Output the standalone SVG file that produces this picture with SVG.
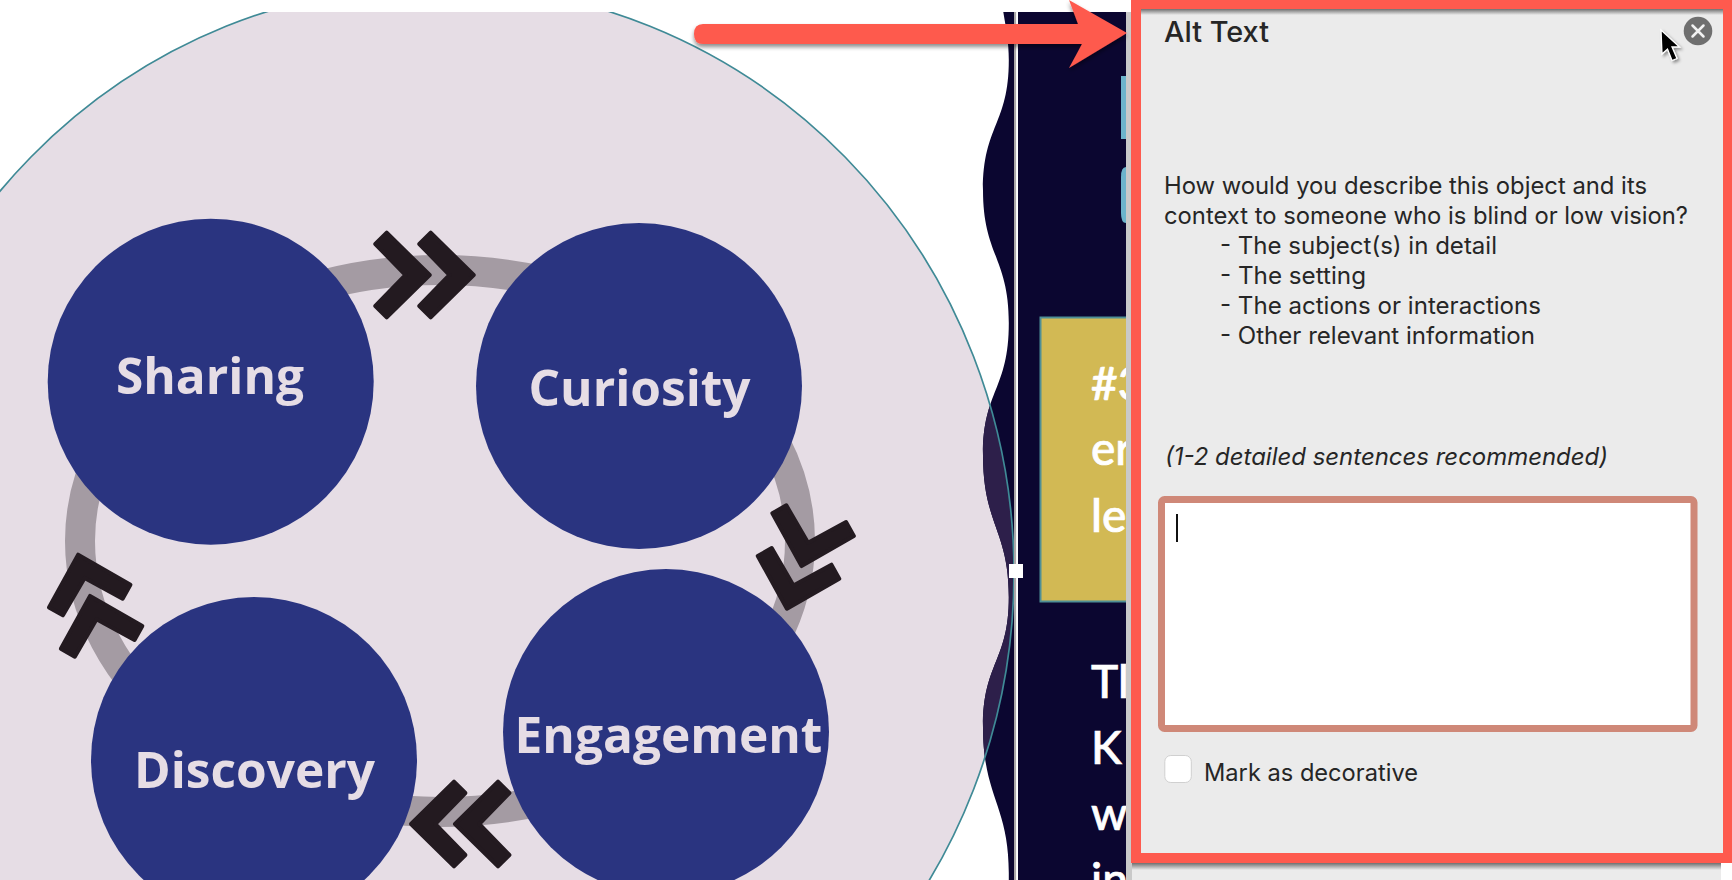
<svg xmlns="http://www.w3.org/2000/svg" width="1732" height="880" viewBox="0 0 1732 880">
<style>
.lbl{font-family:"Open Sans","Noto Sans",sans-serif;font-weight:700;font-size:49.6px;fill:#e6dde5;text-anchor:middle}
.node{fill:#2a3480}
.chev{fill:#231a20;stroke:#231a20;stroke-width:4;stroke-linejoin:round}
.ui{font-family:Inter,"Liberation Sans",sans-serif;font-size:24px;fill:#262626}
.bg{font-family:Lato,"Liberation Sans",sans-serif;font-size:46px;font-weight:500;fill:#fff;stroke:#fff;stroke-width:0.7}
</style>
<defs>
<polygon id="ch" points="-45,-42.3 -2,0 -45,42.3 -56.4,31 -26.2,0 -56.4,-31"/>
<clipPath id="circ"><ellipse cx="438" cy="573" rx="576" ry="588"/></clipPath>
<linearGradient id="sTop" x1="0" y1="0" x2="0" y2="1"><stop offset="0" stop-color="#6f6f6f"/><stop offset="1" stop-color="#ebebeb"/></linearGradient>
<filter id="sh" x="-10%" y="-30%" width="120%" height="170%"><feDropShadow dx="0" dy="3" stdDeviation="2" flood-color="#000" flood-opacity="0.45"/></filter>
<filter id="csh" x="-50%" y="-50%" width="200%" height="200%"><feDropShadow dx="2" dy="2" stdDeviation="1.5" flood-color="#000" flood-opacity="0.4"/></filter>
<path id="wave" d="M1003.3,12C1006,28 1008.8,42 1008.8,60C1008.8,125 983,125 983,190C983,255 1008.8,258 1008.8,323C1008.8,390 983,390 983,455C983,525 1008.8,530 1008.8,597C1008.8,662 983,662 983,727C983,797 1008.8,805 1008.8,873L1008.8,880L1014.5,880L1014.5,12Z"/>
</defs>
<rect width="1732" height="880" fill="#fff"/>
<g id="backdrop">
<ellipse cx="438" cy="573" rx="576" ry="588" fill="#e6dde5"/>
<use href="#wave" fill="#0b0630"/>
<use href="#wave" fill="#2d1f4a" clip-path="url(#circ)"/>
<ellipse cx="438" cy="573" rx="576" ry="588" fill="none" stroke="#3f8a96" stroke-width="1.7"/>
<rect x="0" y="0" width="1126" height="12" fill="#fff"/>
<rect x="1018" y="12" width="108" height="868" fill="#0b0630"/>
<rect x="1014" y="12" width="2.3" height="868" fill="#aaa7a8"/>
<rect x="1016.3" y="12" width="1.7" height="868" fill="#fff"/>
<rect x="1121" y="76" width="6" height="63" fill="#6cb4cc"/>
<path d="M1127,167L1126,167Q1121,167 1121,177L1121,213Q1121,223 1126,223L1127,223Z" fill="#6cb4cc"/>
<rect x="1040.5" y="317.5" width="90" height="284" fill="#d2b954" stroke="#4f8f96" stroke-width="2"/>
<text class="bg" x="1091" y="400">#3</text>
<text class="bg" x="1091" y="465">er</text>
<text class="bg" x="1091" y="532">le</text>
<text class="bg" x="1091" y="698">Tl</text>
<text class="bg" x="1091" y="764">K</text>
<text class="bg" x="1091" y="830">w</text>
<text class="bg" x="1091" y="896">in</text>
<rect x="1009" y="564" width="14" height="14" fill="#fff"/>
</g>
<g id="connectors">
<ellipse cx="440" cy="541" rx="360" ry="271" fill="none" stroke="#a49ba3" stroke-width="30"/>
<use href="#ch" class="chev" transform="translate(431.7,275)"/>
<use href="#ch" class="chev" transform="translate(475.7,275)"/>
<use href="#ch" class="chev" transform="translate(801,568) rotate(105.6)"/>
<use href="#ch" class="chev" transform="translate(786.4,610.7) rotate(105.6)"/>
<use href="#ch" class="chev" transform="translate(409,824) rotate(180)"/>
<use href="#ch" class="chev" transform="translate(453,824) rotate(180)"/>
<use href="#ch" class="chev" transform="translate(77.6,552.7) rotate(-105.6)"/>
<use href="#ch" class="chev" transform="translate(89.5,594) rotate(-105.6)"/>
</g>
<g id="node-sharing"><circle class="node" cx="210.7" cy="381.7" r="163"/><text class="lbl" x="210" y="393.5">Sharing</text></g>
<g id="node-curiosity"><circle class="node" cx="639" cy="386" r="163"/><text class="lbl" x="639.5" y="406">Curiosity</text></g>
<g id="node-engagement"><circle class="node" cx="666" cy="732" r="163"/><text class="lbl" x="668.5" y="752.5">Engagement</text></g>
<g id="node-discovery"><circle class="node" cx="254" cy="760" r="163"/><text class="lbl" x="254.5" y="787.5">Discovery</text></g>
<g id="panel">
<rect x="1126" y="12" width="6" height="868" fill="#c9c9c9"/>
<rect x="1131" y="0" width="601" height="863" fill="#fe5a4e"/>
<rect x="1132" y="863" width="589" height="17" fill="#ebebeb"/>
<rect x="1132" y="863" width="589" height="7" fill="url(#sTop)"/>
<rect x="1141" y="9" width="582" height="844" fill="#ebebeb"/>
<rect x="1141" y="9" width="582" height="6" fill="url(#sTop)"/>
<text class="ui" x="1164" y="41.7" font-weight="500" style="font-size:29px" textLength="105" lengthAdjust="spacingAndGlyphs">Alt Text</text>
<text class="ui" x="1164" y="194" textLength="483" lengthAdjust="spacingAndGlyphs">How would you describe this object and its</text>
<text class="ui" x="1164" y="224" textLength="524" lengthAdjust="spacingAndGlyphs">context to someone who is blind or low vision?</text>
<text class="ui" x="1220" y="254" textLength="277" lengthAdjust="spacingAndGlyphs">- The subject(s) in detail</text>
<text class="ui" x="1220" y="284" textLength="146" lengthAdjust="spacingAndGlyphs">- The setting</text>
<text class="ui" x="1220" y="314" textLength="321" lengthAdjust="spacingAndGlyphs">- The actions or interactions</text>
<text class="ui" x="1220" y="344" textLength="315" lengthAdjust="spacingAndGlyphs">- Other relevant information</text>
<text class="ui" x="1165" y="465" font-style="italic" textLength="443" lengthAdjust="spacingAndGlyphs">(1-2 detailed sentences recommended)</text>
<rect x="1161.5" y="499.5" width="532.5" height="229" rx="3" fill="#fff" stroke="#cf8878" stroke-width="7"/>
<rect x="1176" y="514" width="2" height="28" fill="#111"/>
<rect x="1164.8" y="755.5" width="26.5" height="27" rx="6" fill="#fff" stroke="#d0d0d0" stroke-width="1"/>
<text class="ui" x="1204" y="780.7" textLength="214" lengthAdjust="spacingAndGlyphs">Mark as decorative</text>
<circle cx="1698" cy="31" r="14.3" fill="#6f6f6f"/>
<path d="M1692.5,25.5L1703.5,36.5M1703.5,25.5L1692.5,36.5" stroke="#f2f2f2" stroke-width="2.5" stroke-linecap="round" fill="none"/>
<path d="M1661,30L1662,54L1667.5,49L1672,60.5L1677,58.5L1672,47L1679.5,47Z" fill="#000" stroke="#fff" stroke-width="1.3" filter="url(#csh)"/>
</g>
<g id="callout-arrow">
<path d="M703,24L1078,24L1069,0L1127,33L1069,68L1082,44L703,44Q694,44 694,34Q694,24 703,24Z" fill="#fe5a4e" filter="url(#sh)"/>
</g>
</svg>
